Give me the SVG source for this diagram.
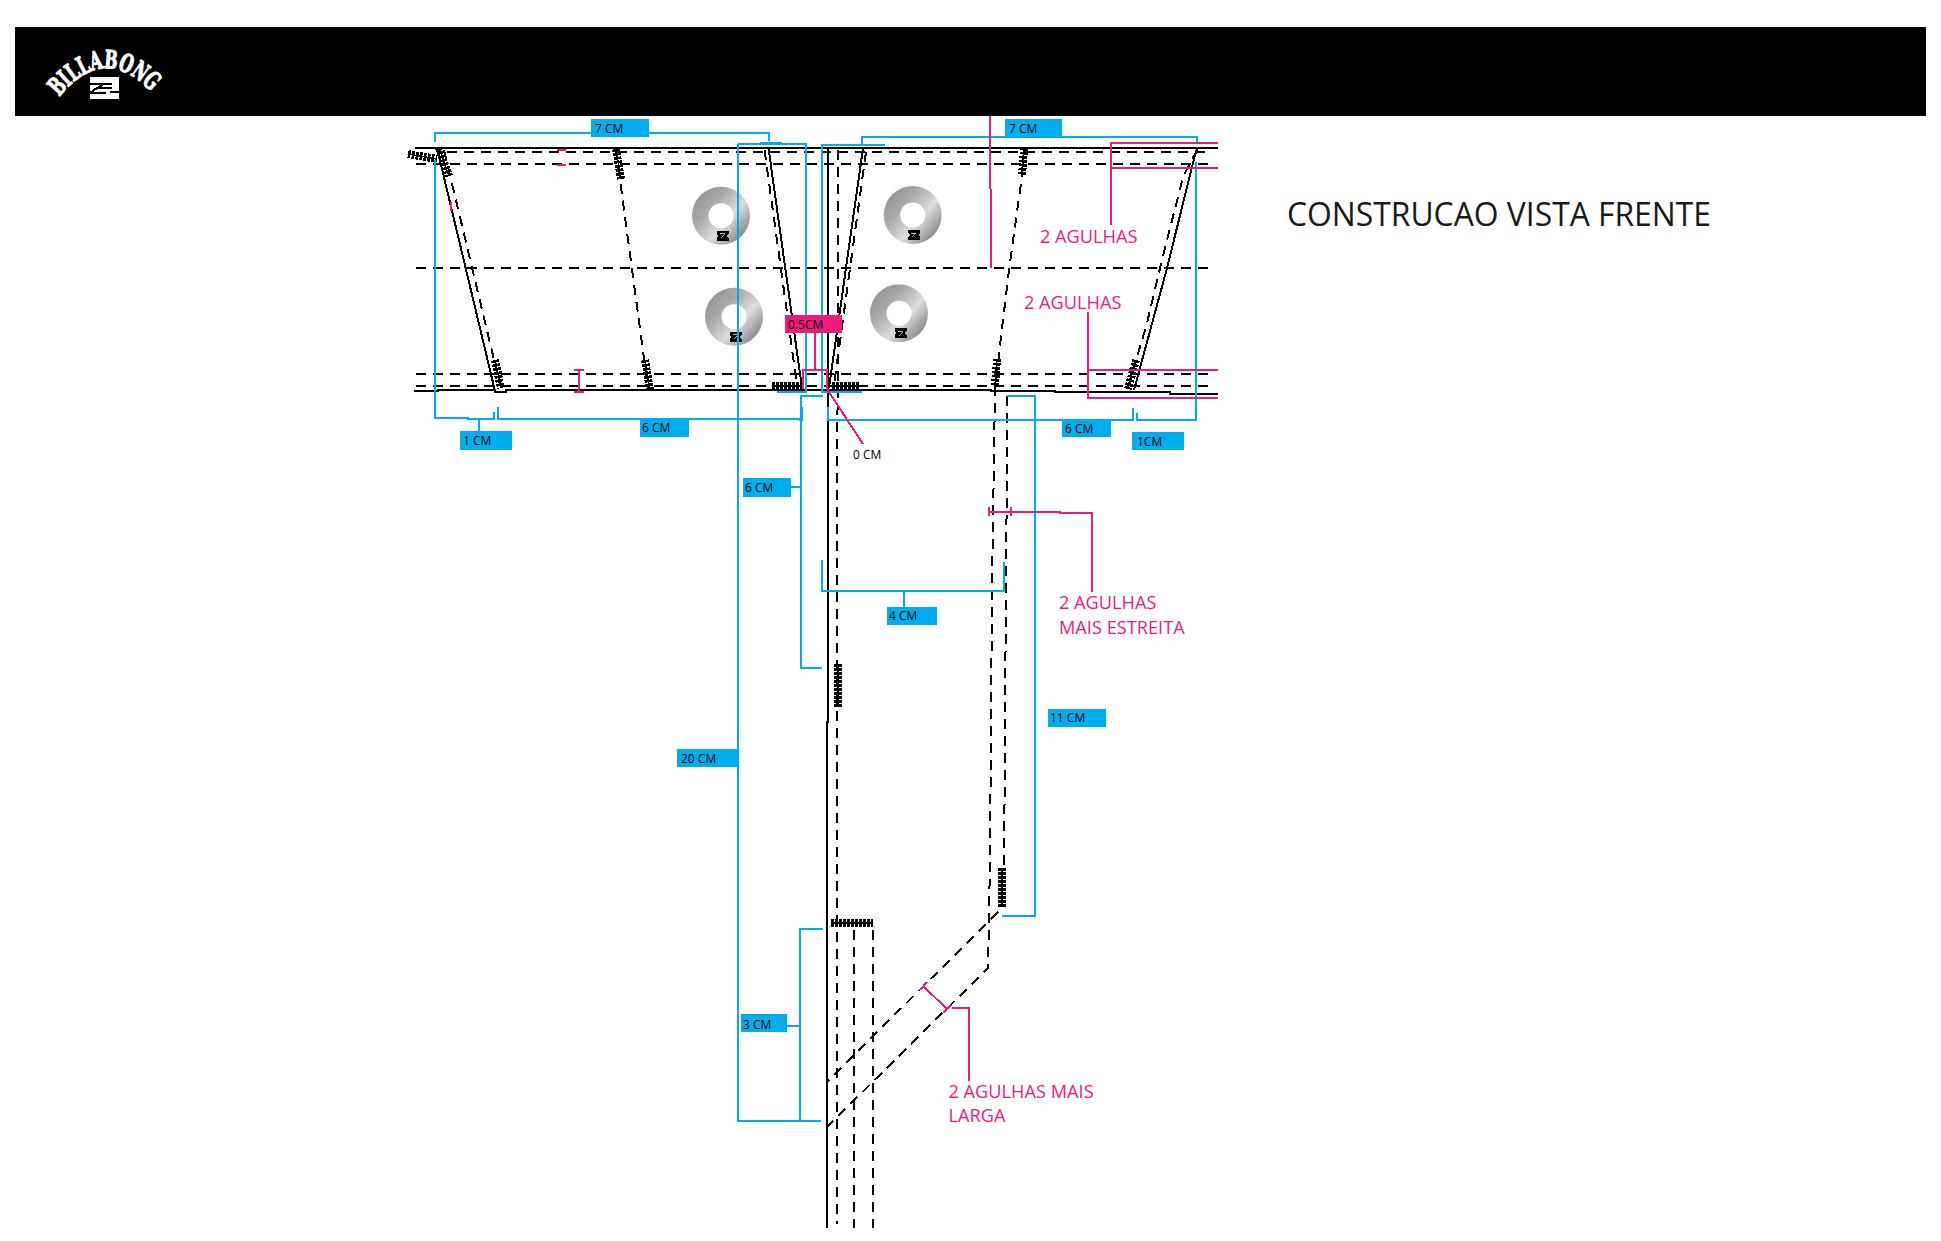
<svg xmlns="http://www.w3.org/2000/svg" xmlns:xlink="http://www.w3.org/1999/xlink" width="1941" height="1241" viewBox="0 0 1941 1241">
<style>
text{font-family:"Open Sans","Liberation Sans",sans-serif}
path{shape-rendering:crispEdges}
.b{fill:none;stroke:#00AEEF;stroke-width:2}
.p{fill:none;stroke:#ED1C7A;stroke-width:2}
.s{fill:none;stroke:#000;stroke-width:2}
.d{fill:none;stroke:#000;stroke-width:2;stroke-dasharray:10 7}
.t{fill:none;stroke:#000;stroke-width:8;stroke-dasharray:2.5 1.5}
.tc{fill:none;stroke:#000;stroke-width:1.5}
.lb{fill:#00AEEF}
.lt{font-size:12px;fill:#000}
.pt{font-size:18.2px;fill:#ED1C7A}
</style>
<defs>
<linearGradient id="steel" x1="0.05" y1="0.1" x2="0.95" y2="0.9">
<stop offset="0" stop-color="#909092"/>
<stop offset="0.3" stop-color="#a8a8aa"/>
<stop offset="0.62" stop-color="#dcdcde"/>
<stop offset="1" stop-color="#77777a"/>
</linearGradient>
<g id="mini"><path fill="#000" d="M-6-5H6V-2L4 0L6 2V5H-6V2L-4 0L-6-2z"/><path d="M-3-1.8H2L-2 1.8" stroke="#fff" stroke-width="0.7" fill="none"/></g>
<g id="eyelet"><path style="shape-rendering:auto" fill-rule="evenodd" fill="url(#steel)" d="M-29 0a29 29 0 1 0 58 0a29 29 0 1 0-58 0zM-12.5 0a12.5 12.5 0 1 1 25 0a12.5 12.5 0 1 1-25 0z"/><use xlink:href="#mini" href="#mini" x="1.5" y="20"/></g>
<path id="arch" d="M59 97Q105 41 153 94"/>
</defs>
<rect width="1941" height="1241" fill="#fff"/>
<g id="header">
<path d="M15 27H1926V116H15z" fill="#000"/>
<g id="logo">
<text font-size="25" font-weight="700" fill="#fff" style="font-family:'DejaVu Serif','Liberation Serif',serif" stroke="#fff" stroke-width="1.2"><textPath xlink:href="#arch" href="#arch" textLength="109" lengthAdjust="spacingAndGlyphs">BILLABONG</textPath></text>
<path fill="#fff" d="M90 77H119V99H90z"/>
<path fill="none" stroke="#000" stroke-width="2" d="M90 84H112M104 84L97 88H112M97 88L90 93H106M119 92H110"/>
</g>
</g>
<g id="garment">
<path class="s" d="M415 148H1218"/>
<path class="d" d="M447 152H1210M416 164H1210M416 268H1210M416 374H1210M416 386H1210"/>
<path class="s" d="M414 391H438V390H495V392H506V390H991V391H1055V392H1170V394H1218"/>
<path class="s" d="M828 147V722H827V1228"/>
<path class="d" d="M838 150V400L837 420V1224"/>
<path class="d" d="M854 930V1228M873 930V1228"/>
<path class="s" d="M437 148L495 391"/>
<path class="d" d="M444 150L500 385"/>
<path class="d" d="M616 150L648 388"/>
<path class="s" d="M768.5 148L802 388"/>
<path class="d" d="M764.5 150L797 385"/>
<path class="s" d="M863 148L829 388"/>
<path class="d" d="M866 152L834 385"/>
<path class="d" d="M1024 150L1021 183L1009 270L1001 337L995 390L992 590L991 723L990 860L988 968L827 1127"/>
<path class="d" d="M1007 396V480L1006 560L1005 750L1004 865M998 912L827 1082"/>
<path class="s" d="M1197 148L1193 163L1166.5 270L1134 390"/>
<path class="d" d="M1197 150L1183 177L1162 260L1146 327L1128 387"/>
</g>
<g id="bartacks">
<path class="t" d="M408 154L437 159M439 148L449 176M616 149L621 179M495 360L501 388M645 360L650 390M772 386H802M832 386H859M1024 148L1022 176M997 359L995 385M1136 360L1128 389M838 664V707M1002 868V907M831 923H873"/>
<path class="tc" d="M408 154L437 159M439 148L449 176M616 149L621 179M495 360L501 388M645 360L650 390M772 386H802M832 386H859M1024 148L1022 176M997 359L995 385M1136 360L1128 389M838 664V707M1002 868V907M831 923H873"/>
</g>
<g id="eyelets">
<use xlink:href="#eyelet" href="#eyelet" x="721" y="215.7"/>
<use xlink:href="#eyelet" href="#eyelet" x="912.7" y="215"/>
<use xlink:href="#eyelet" href="#eyelet" x="734" y="316.7"/>
<use xlink:href="#eyelet" href="#eyelet" x="899" y="313.3"/>
</g>
<g id="connectors">
<path class="b" d="M435 142V133H769V141M435 160V418H468V419H494V412"/>
<path class="b" d="M479 419V431M498 407V419H797L802 420V407"/>
<path class="b" d="M738 144V1121H821M738 144H806V392H777M760 143H782"/>
<path class="b" d="M823 396H801V668H822M791 487H801"/>
<path class="b" d="M885 145H822V392H862M862 144V137H1197V144M1196 162V420H1137V413M1133 408V420H828V407"/>
<path class="b" d="M822 560V591H1004V562M904 591V607"/>
<path class="b" d="M1007 396H1035V916H1002"/>
<path class="b" d="M823 929H800V1121M787 1026H800"/>
<path class="p" d="M990 116V188L991 190V268"/>
<path class="p" d="M1218 143H1111V225M1111 168H1218"/>
<path class="p" d="M1088 312V398H1218M1088 370H1218"/>
<path class="p" d="M815 333V370M803 389V370H827V389L863 444"/>
<path class="p" d="M557 150H566M557 165H566M451 202V211"/>
<path class="p" d="M579 370V392M574 370H584M574 392H584"/>
<path class="p" d="M989 512H1060V513H1092V592M989 507V516M1011 507V516"/>
<path class="p" d="M923 986L947 1009M920 990L927 982M943 1013L951 1005M952 1008H969V1081"/>
</g>
<g id="label-7cm-left"><path class="lb" d="M591 119H649V137H591z"/><text class="lt" x="595" y="133">7 CM</text></g>
<g id="label-7cm-right"><path class="lb" d="M1005 119H1062V137H1005z"/><text class="lt" x="1009" y="133">7 CM</text></g>
<g id="label-1cm-left"><path class="lb" d="M460 431H512V450H460z"/><text class="lt" x="463" y="445">1 CM</text></g>
<g id="label-6cm-left"><path class="lb" d="M640 419H689V437H640z"/><text class="lt" x="642" y="432">6 CM</text></g>
<g id="label-6cm-right"><path class="lb" d="M1062 420H1111V437H1062z"/><text class="lt" x="1065" y="433">6 CM</text></g>
<g id="label-1cm-right"><path class="lb" d="M1132 432H1184V450H1132z"/><text class="lt" x="1137" y="446">1CM</text></g>
<g id="label-6cm-vert"><path class="lb" d="M743 478H791V497H743z"/><text class="lt" x="745" y="492">6 CM</text></g>
<g id="label-4cm"><path class="lb" d="M887 607H937V625H887z"/><text class="lt" x="889" y="620">4 CM</text></g>
<g id="label-11cm"><path class="lb" d="M1048 709H1106V727H1048z"/><text class="lt" x="1050" y="722">11 CM</text></g>
<g id="label-20cm"><path class="lb" d="M677 749H738V767H677z"/><text class="lt" x="681" y="763">20 CM</text></g>
<g id="label-3cm"><path class="lb" d="M741 1014H787V1032H741z"/><text class="lt" x="743" y="1029">3 CM</text></g>
<g id="label-05cm"><path d="M785 315H842V333H785z" fill="#ED1C7A"/><text class="lt" x="788" y="329">0.5CM</text></g>
<g id="label-0cm"><text class="lt" x="853" y="459">0 CM</text></g>
<g id="notes">
<text class="pt" x="1040" y="243">2 AGULHAS</text>
<text class="pt" x="1024" y="309">2 AGULHAS</text>
<text class="pt" x="1059" y="609">2 AGULHAS</text>
<text class="pt" x="1059" y="634">MAIS ESTREITA</text>
<text class="pt" x="948.5" y="1098">2 AGULHAS MAIS</text>
<text class="pt" x="948.5" y="1122">LARGA</text>
</g>
<g id="title"><text x="1287" y="226" font-size="33" fill="#1a1a1a" textLength="424" lengthAdjust="spacingAndGlyphs">CONSTRUCAO VISTA FRENTE</text></g>
</svg>
